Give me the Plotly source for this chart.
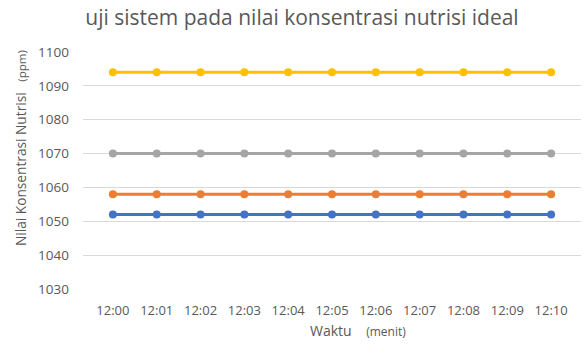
import plotly.graph_objects as go

# Sampling times (minutes) and nutrient concentration readings (ppm)
waktu = ["12:00", "12:01", "12:02", "12:03", "12:04", "12:05",
         "12:06", "12:07", "12:08", "12:09", "12:10"]
seri_kuning = [1094] * 11
seri_abu = [1070] * 11
seri_oranye = [1058] * 11
seri_biru = [1052] * 11
y_ticks = [1030, 1040, 1050, 1060, 1070, 1080, 1090, 1100]

warna = {"biru": "#4472C4", "oranye": "#ED7D31", "abu": "#A5A5A5", "kuning": "#FFC000"}
font_utama = "'Open Sans', sans-serif"
abu_teks = "#595959"

fig = go.Figure()
for nilai, kunci in [(seri_biru, "biru"), (seri_oranye, "oranye"),
                     (seri_abu, "abu"), (seri_kuning, "kuning")]:
    fig.add_trace(go.Scatter(
        x=waktu, y=nilai, mode="lines+markers",
        line=dict(color=warna[kunci], width=3),
        marker=dict(color=warna[kunci], size=8),
        showlegend=False,
    ))

fig.update_layout(
    width=587, height=345,
    margin=dict(l=83, r=6, t=52, b=56),
    paper_bgcolor="white", plot_bgcolor="white",
    font=dict(family=font_utama, color=abu_teks),
    title=dict(text="uji sistem pada nilai konsentrasi nutrisi ideal",
               x=(84 + 520) / 2 / 587, xanchor="center", y=0.95, yanchor="middle",
               font=dict(size=21, color=abu_teks, family=font_utama)),
)
fig.update_xaxes(
    type="category", showgrid=False, showline=False, ticks="",
    tickfont=dict(size=13, color=abu_teks), ticklabelstandoff=12,
)
fig.update_yaxes(
    range=[1030, 1100], tickvals=y_ticks, showgrid=True,
    gridcolor="#D9D9D9", gridwidth=1, zeroline=False, showline=False,
    ticks="", tickfont=dict(size=13.5, color=abu_teks), ticklabelstandoff=13,
)

fig.add_annotation(
    text="Waktu    <span style='font-size:12px'>(menit)</span>",
    xref="paper", yref="paper", x=(358 - 83) / 498, y=-(330 - 289) / 237,
    xanchor="center", yanchor="middle", showarrow=False,
    font=dict(size=14, color=abu_teks, family=font_utama),
)
fig.add_annotation(
    text="Nilai Konsentrasi Nutrisi   <span style='font-size:11.5px'>(ppm)</span>",
    xref="paper", yref="paper", x=-(83 - 20) / 498, y=(289 - 148) / 237,
    xanchor="center", yanchor="middle", showarrow=False, textangle=-90,
    font=dict(size=13.7, color=abu_teks, family=font_utama),
)

fig.write_html("out.html")
